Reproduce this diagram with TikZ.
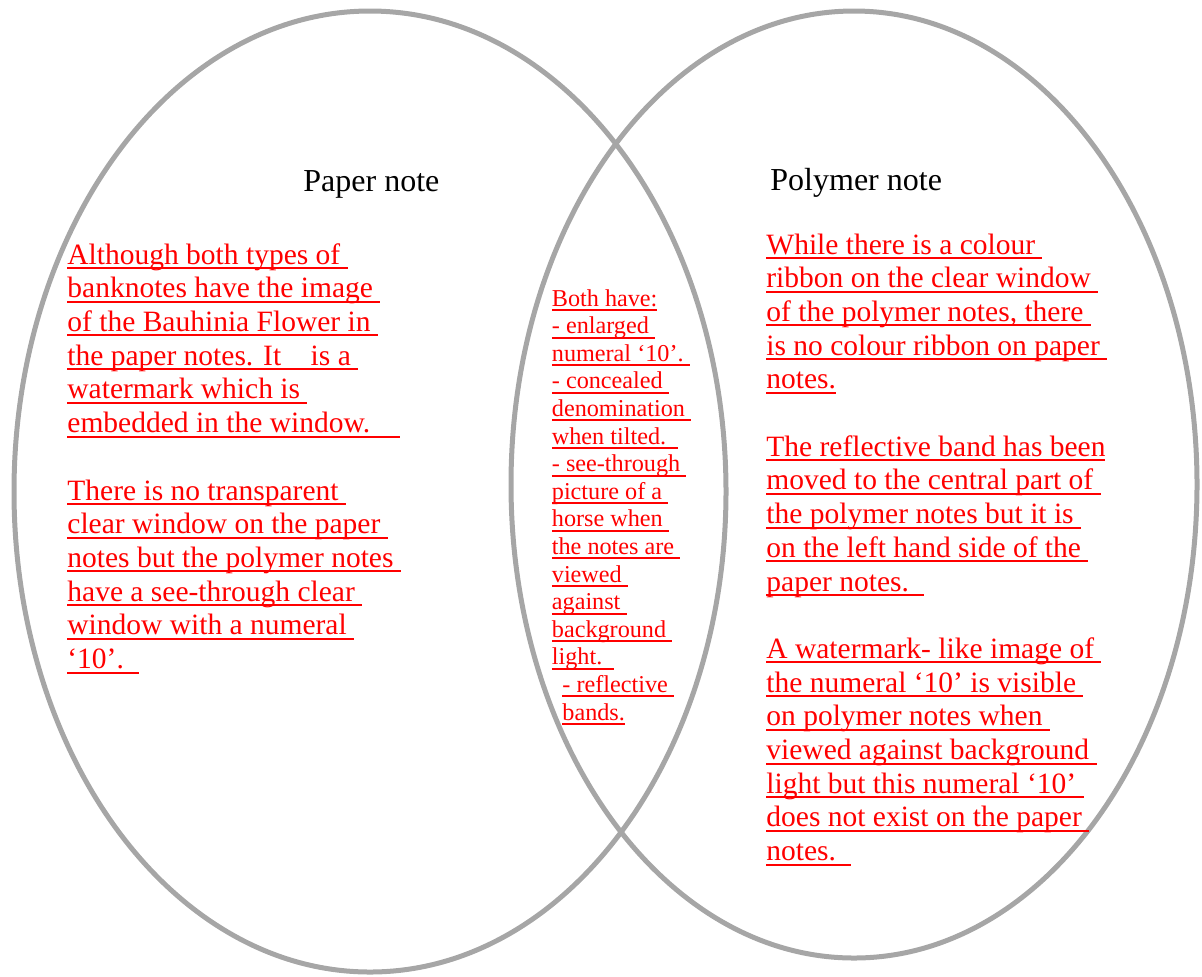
\documentclass[tikz,border=0pt]{standalone}
\usepackage{fontspec}
\setmainfont{Liberation Serif}
\newcommand\ulline[1]{\setbox0=\hbox{#1}\rlap{\rule[-2.5pt]{\wd0}{1pt}}\box0}

\begin{document}
\begin{tikzpicture}[x=.5pt,y=-.5pt,
  ring/.style={draw=gray!70,line width=2.5pt},
  title/.style={anchor=base west,inner sep=0pt,font=\fontsize{16}{19}\selectfont},
  redtext/.style={anchor=base west,inner sep=0pt,text=red,font=\fontsize{14.75}{17}\selectfont},
  smalltext/.style={anchor=base west,inner sep=0pt,text=red,font=\fontsize{12.1}{14}\selectfont}]
  \useasboundingbox(0,0)rectangle(1202,976);
  \coordinate(P)at(370,491.5);
  \coordinate(Q)at(854,484.5);
  \draw[ring](P)ellipse[x radius=356,y radius=480.5];
  \draw[ring](Q)ellipse[x radius=343,y radius=473.5];
  \node[title](paper)at(303,191){Paper note};
  \node[title](polymer)at(770,190){Polymer note};
  % paper note side
  \foreach \txt[count=\i from 0]in{{Although both types of\ },{banknotes have the image\ },
    {of the Bauhinia Flower in\ },{the paper notes. It\ \ \ \ is a\ },{watermark which is\ },
    {embedded in the window.\ \ \ \ }}
    \node[redtext](paperA\i)at(67,264+33.7*\i){\ulline{\txt}};
  \foreach \txt[count=\i from 0]in{{There is no transparent\ },{clear window on the paper\ },
    {notes but the polymer notes\ },{have a see-through clear\ },{window with a numeral\ },
    {‘10’.\ \ }}
    \node[redtext](paperB\i)at(67,500+33.7*\i){\ulline{\txt}};
  % both
  \foreach \txt[count=\i from 0]in{{Both have:},{- enlarged\ },{numeral ‘10’.\ },{- concealed\ },
    {denomination\ },{when tilted.\ \ },{- see-through\ },{picture of a\ },{horse when\ },
    {the notes are\ },{viewed\ },{against\ },{background\ },{light.\ \ }}
    \node[smalltext](both\i)at(551.5,306+27.6*\i){\ulline{\txt}};
  \node[smalltext](both14)at(562,306+27.6*14){\ulline{- reflective\ }};
  \node[smalltext](both15)at(562,306+27.6*15){\ulline{bands.}};
  % polymer note side
  \foreach \txt[count=\i from 0]in{{While there is a colour\ },{ribbon on the clear window\ },
    {of the polymer notes, there\ },{is no colour ribbon on paper\ },{notes.}}
    \node[redtext](polyA\i)at(766,254+33.7*\i){\ulline{\txt}};
  \foreach \txt[count=\i from 0]in{{The reflective band has been},{moved to the central part of\ },
    {the polymer notes but it is\ },{on the left hand side of the\ },{paper notes.\ \ }}
    \node[redtext](polyB\i)at(766,456.2+33.7*\i){\ulline{\txt}};
  \foreach \txt[count=\i from 0]in{{A watermark- like image of\ },{the numeral ‘10’ is visible\ },
    {on polymer notes when\ },{viewed against background\ },{light but this numeral ‘10’\ },
    {does not exist on the paper\ },{notes.\ \ }}
    \node[redtext](polyC\i)at(766,658.4+33.7*\i){\ulline{\txt}};
\end{tikzpicture}
\end{document}
